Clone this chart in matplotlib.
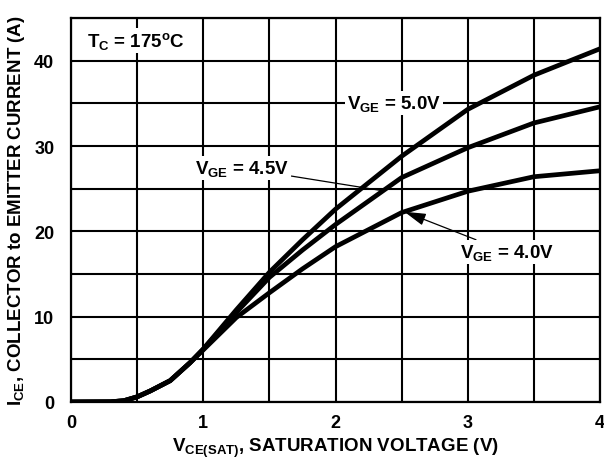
import matplotlib.pyplot as plt
from matplotlib.ticker import MultipleLocator

plt.rcParams['font.family'] = ['Liberation Sans', 'DejaVu Sans']
plt.rcParams['font.weight'] = 'bold'
plt.rcParams['mathtext.fontset'] = 'custom'
plt.rcParams['mathtext.rm'] = 'Liberation Sans:bold'
plt.rcParams['mathtext.it'] = 'Liberation Sans:bold'
plt.rcParams['mathtext.bf'] = 'Liberation Sans:bold'

# collector-emitter voltage (V)
vce = [0, 0.3, 0.4, 0.5, 0.6, 0.75, 0.9, 1.0, 1.25, 1.5, 1.75, 2.0, 2.5, 3.0, 3.5, 4.0]
# collector current (A) for each gate voltage
ice_50 = [0, 0.02, 0.15, 0.6, 1.3, 2.5, 4.6, 6.2, 10.8, 15.2, 19.0, 22.6, 28.8, 34.3, 38.3, 41.4]
ice_45 = [0, 0.02, 0.15, 0.6, 1.3, 2.5, 4.6, 6.2, 10.5, 14.6, 17.8, 20.8, 26.3, 29.8, 32.7, 34.6]
ice_40 = [0, 0.02, 0.15, 0.6, 1.3, 2.5, 4.6, 6.1, 9.9, 12.8, 15.6, 18.2, 22.2, 24.7, 26.4, 27.1]

fig = plt.figure(figsize=(6.04, 4.64), dpi=100)
ax = fig.add_axes([0.1175, 0.1315, 0.876, 0.8275])

for ice in (ice_50, ice_45, ice_40):
    ax.plot(vce, ice, color='black', lw=3.4, solid_joinstyle='round',
            solid_capstyle='butt', zorder=3)

ax.set_xlim(0, 4)
ax.set_ylim(0, 45)
ax.xaxis.set_major_locator(MultipleLocator(1))
ax.xaxis.set_minor_locator(MultipleLocator(0.5))
ax.yaxis.set_major_locator(MultipleLocator(10))
ax.yaxis.set_minor_locator(MultipleLocator(5))
ax.grid(True, which='both', color='black', lw=1.5, zorder=1)
ax.tick_params(which='both', length=0, labelsize=13)
ax.tick_params(axis='x', pad=9)
ax.tick_params(axis='y', pad=12)
for s in ax.spines.values():
    s.set_linewidth(1.6)
    s.set_zorder(4)

fs = 13.5
ax.set_xlabel(r'V$_{\rm CE(SAT)}$, SATURATION VOLTAGE (V)', fontsize=fs,
              fontweight='bold', labelpad=3)
ax.set_ylabel(r'I$_{\rm CE}$, COLLECTOR to EMITTER CURRENT (A)', fontsize=fs,
              fontweight='bold', labelpad=5)

box = dict(facecolor='white', edgecolor='none', pad=1.5)
ax.text(0.12, 42.4, r'T$_{\rm C}$ = 175$^{\rm o}$C', fontsize=fs,
        fontweight='bold', va='center', ha='left', bbox=box, zorder=5)
ax.text(2.09, 35.0, r'V$_{\rm GE}$ = 5.0V', fontsize=fs, fontweight='bold',
        va='center', ha='left', bbox=box, zorder=5)
ax.annotate(r'V$_{\rm GE}$ = 4.5V', xy=(2.34, 24.8), xytext=(0.94, 27.4),
            fontsize=fs, fontweight='bold', va='center', ha='left',
            bbox=box, zorder=5,
            arrowprops=dict(arrowstyle='-', color='black', lw=0.9,
                            shrinkA=0, shrinkB=0))
ax.annotate(r'V$_{\rm GE}$ = 4.0V', xy=(2.52, 22.3), xytext=(2.94, 17.6),
            fontsize=fs, fontweight='bold', va='center', ha='left',
            bbox=box, zorder=5,
            arrowprops=dict(arrowstyle='-|>,head_length=0.6,head_width=0.17',
                            color='black', lw=0.9,
                            mutation_scale=22, shrinkA=0, shrinkB=0))

fig.savefig('out.png', dpi=100)
